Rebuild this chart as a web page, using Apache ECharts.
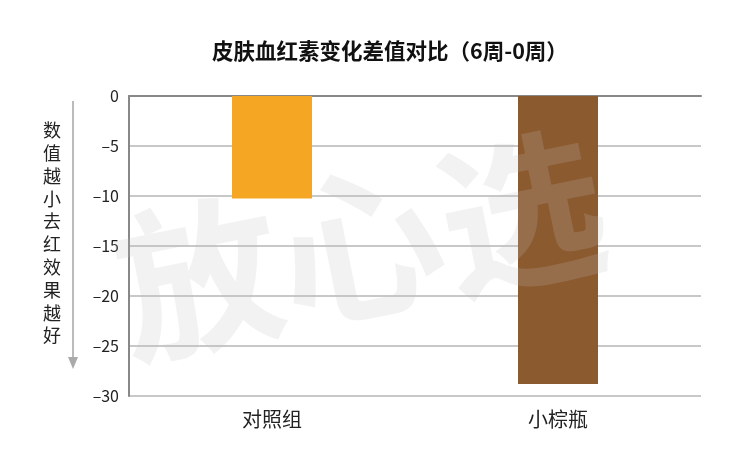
<!DOCTYPE html>
<html><head><meta charset="utf-8">
<script src="https://cdn.jsdelivr.net/npm/echarts@6/dist/echarts.min.js"></script>
<style>html,body{margin:0;padding:0;background:#fff}#c{width:750px;height:463px}</style>
</head><body><div id="c"></div>
<script>
const categories = ['对照组', '小棕瓶'];
const values = [-10.25, -28.8];
const barColors = ['#F5A623', '#8C5A2F'];
const yMin = -30, yMax = 0, yStep = 5;
const titleText = '皮肤血红素变化差值对比（6周-0周）';
const yName = '数值越小去红效果越好';
const watermark = '放心选';

const chart = echarts.init(document.getElementById('c'), null, {renderer: 'canvas'});
const font = '"PingFang SC","Noto Sans CJK SC",sans-serif';
chart.setOption({
  animation: false,
  backgroundColor: '#fff',
  title: {
    text: titleText, left: 207, top: 35,
    textStyle: {fontSize: 21.5, fontWeight: 'bold', color: '#111', fontFamily: font}
  },
  grid: {left: 129, right: 49, top: 96, bottom: 67},
  xAxis: [{
    type: 'category', data: categories, position: 'bottom',
    axisLine: {show: false}, axisTick: {show: false},
    axisLabel: {fontSize: 20, color: '#222', margin: 13, fontFamily: font}
  }, {
    type: 'category', data: categories, position: 'top',
    axisLine: {show: true, onZero: false, lineStyle: {color: '#888', width: 2}},
    axisTick: {show: false}, axisLabel: {show: false}
  }],
  yAxis: {
    type: 'value', min: yMin, max: yMax, interval: yStep,
    axisLine: {show: true, lineStyle: {color: '#888', width: 2}},
    axisTick: {show: false},
    splitLine: {lineStyle: {color: '#c8c8c8', width: 2}},
    axisLabel: {fontSize: 16, color: '#222', margin: 10, fontFamily: font,
      formatter: v => v < 0 ? '–' + Math.abs(v) : String(v)}
  },
  series: [{
    type: 'bar', xAxisIndex: 0, barWidth: 80,
    data: values.map((v, i) => ({value: v, itemStyle: {color: barColors[i]}}))
  }],
  graphic: [
    {type: 'text', left: 43, top: 119, z: 10,
     style: {text: yName.split('').join('\n'), font: '18px ' + font, fill: '#222', lineHeight: 22.8}},
    {type: 'line', shape: {x1: 73, y1: 101, x2: 73, y2: 358}, style: {stroke: '#bbb', lineWidth: 2}, z: 10},
    {type: 'polygon', shape: {points: [[68, 357], [78, 357], [73, 369]]}, style: {fill: '#aaa'}, z: 10},
    {type: 'text', x: 360, y: 245, rotation: 0.2, originX: 0, originY: 0, z: 100,
     style: {text: watermark, font: 'bold 165px "Noto Sans CJK SC",sans-serif', fill: 'rgba(190,190,190,0.2)',
       textAlign: 'center', textVerticalAlign: 'middle'}}
  ]
});
</script></body></html>
